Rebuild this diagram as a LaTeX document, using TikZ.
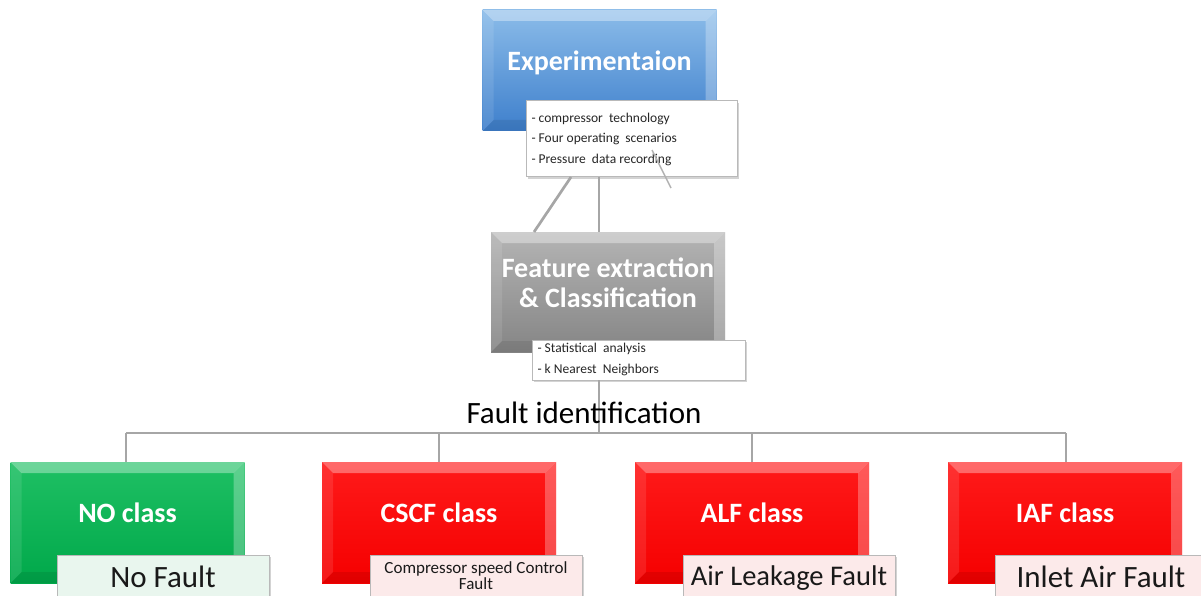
\documentclass[tikz,border=0pt]{standalone}
\usepackage{fontspec}
\setmainfont{Carlito}
\usetikzlibrary{shadows}
\definecolor{blueT}{HTML}{8BBCE9}
\definecolor{blueB}{HTML}{3E7FCC}
\definecolor{grayT}{HTML}{B4B4B4}
\definecolor{grayB}{HTML}{858585}
\definecolor{greenT}{HTML}{1FC064}
\definecolor{greenB}{HTML}{00A84A}
\definecolor{redT}{HTML}{FF1A1A}
\definecolor{redB}{HTML}{F50000}
\definecolor{conn}{HTML}{A6A6A6}
\definecolor{greentint}{HTML}{E9F6EE}
\definecolor{redtint}{HTML}{FCEAEA}
\newcommand{\zerobox}[2]{\raisebox{#1}[0pt][0pt]{#2}}
\tikzset{
  bevel/.style={path picture={
    \fill[white,opacity=0.35] (path picture bounding box.north west) -- (path picture bounding box.north east)
      -- ([xshift=-11pt,yshift=-11pt]path picture bounding box.north east) -- ([xshift=11pt,yshift=-11pt]path picture bounding box.north west) -- cycle;
    \fill[white,opacity=0.10] (path picture bounding box.north west) -- ([xshift=11pt,yshift=-11pt]path picture bounding box.north west)
      -- ([xshift=11pt,yshift=11pt]path picture bounding box.south west) -- (path picture bounding box.south west) -- cycle;
    \fill[white,opacity=0.28] (path picture bounding box.north east) -- ([xshift=-11pt,yshift=-11pt]path picture bounding box.north east)
      -- ([xshift=-11pt,yshift=11pt]path picture bounding box.south east) -- (path picture bounding box.south east) -- cycle;
    \fill[black,opacity=0.08] (path picture bounding box.south west) -- ([xshift=11pt,yshift=11pt]path picture bounding box.south west)
      -- ([xshift=-11pt,yshift=11pt]path picture bounding box.south east) -- (path picture bounding box.south east) -- cycle;
  }},
  mainbox/.style={rectangle, inner sep=0pt, minimum width=234pt, minimum height=121pt, bevel,
    text=white, font=\fontsize{28}{32}\selectfont\bfseries, align=center},
  bluebox/.style={mainbox, top color=blueT, bottom color=blueB},
  graybox/.style={mainbox, top color=grayT, bottom color=grayB},
  greenbox/.style={mainbox, top color=greenT, bottom color=greenB},
  redbox/.style={mainbox, top color=redT, bottom color=redB},
  subbox/.style={rectangle, draw=gray!55, line width=1pt, fill=white, inner sep=0pt,
    drop shadow={shadow xshift=2pt, shadow yshift=-2pt, opacity=0.35}},
  smalltxt/.style={font=\fontsize{13.5}{20.5}\selectfont, align=left, text=black!85},
  classsub/.style={subbox, minimum width=212pt, minimum height=46pt, text=black!90},
  conline/.style={draw=conn, line width=2.7pt},
}
\begin{document}
\begin{tikzpicture}[x=1pt,y=-1pt]
\useasboundingbox (0,0) rectangle (1201,596);
\clip (0,0) rectangle (1201,596);

\coordinate (dA) at (571,177);
\coordinate (dB) at (534,232);
\coordinate (aA) at (652,150);
\coordinate (aB) at (671,188);
\coordinate (hl) at (126,433);
\coordinate (hr) at (1066,433);

% top
\node[bluebox] (exp) at (599.5,70.5) {\zerobox{0pt}{Experimentaion}};
\node[subbox, minimum width=211pt, minimum height=76pt] (expsub) at (631.5,139) {};
\node[smalltxt, anchor=west] (exptxt) at (528,139) {- compressor\ \ technology\\- Four operating\ \ scenarios\\- Pressure\ \ data recording};

% feature
\node[graybox, minimum height=120pt] (feat) at (608,292) {\zerobox{0pt}{\begin{tabular}{@{}c@{}}Feature extraction\\[-2pt]\& Classification\end{tabular}}};
\node[subbox, minimum width=213pt, minimum height=40pt] (featsub) at (638.5,360) {};
\node[smalltxt, anchor=west] (feattxt) at (534,359.5) {- Statistical\ \ analysis\\- k Nearest\ \ Neighbors};

% classes
\node[greenbox] (no) at (127.5,522.5) {\zerobox{0.5pt}{NO class}};
\node[redbox] (cscf) at (439,522.5) {\zerobox{0.5pt}{CSCF class}};
\node[redbox] (alf) at (752,522.5) {\zerobox{0.5pt}{ALF class}};
\node[redbox] (iaf) at (1065,522.5) {\zerobox{0.5pt}{IAF class}};

\node[classsub, fill=greentint, font=\fontsize{31}{34}\selectfont] (nosub) at (163,578) {\raisebox{3pt}{No Fault}};
\node[classsub, fill=redtint, font=\fontsize{17}{18}\selectfont, align=center] (cscfsub) at (476,578) {\raisebox{2pt}{\begin{tabular}{@{}c@{}}Compressor speed Control\\[-2pt]Fault\end{tabular}}};
\node[classsub, fill=redtint, font=\fontsize{28.5}{32}\selectfont] (alfsub) at (789,578) {\raisebox{3pt}{Air Leakage Fault}};
\node[classsub, fill=redtint, font=\fontsize{31}{34}\selectfont] (iafsub) at (1101,578) {\raisebox{3pt}{Inlet Air Fault}};

% connectors
\draw[conline] (599,177) coordinate (expb) -- (599,232) coordinate (featt);
\draw[conline] (dA) -- (dB);
\draw[conline, line width=1.5pt, draw=gray!60] (aA) -- (aB);
\draw[conline] (599,380) coordinate (fsb) -- (599,433) coordinate (hm);
\draw[conline] (hl) -- (hr);
\draw[conline] (hl) -- (no.north -| hl);
\draw[conline] (cscf.north |- hl) -- (cscf.north);
\draw[conline] (alf.north |- hl) -- (alf.north);
\draw[conline] (hr) -- (iaf.north -| hr);

\node[font=\fontsize{31}{34}\selectfont, text=black] (fault) at (584,413) {Fault identification};
\end{tikzpicture}
\end{document}
